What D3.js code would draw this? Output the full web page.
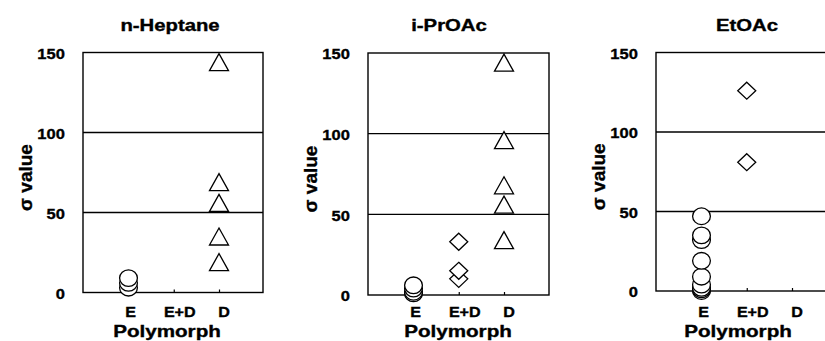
<!DOCTYPE html>
<html>
<head>
<meta charset="utf-8">
<script src="https://cdn.jsdelivr.net/npm/d3@7"></script>
<style>
  body { margin: 0; background: #fff; }
  text { font-family: "Liberation Sans", Arial, sans-serif; font-weight: bold; fill: #000; stroke: #000; stroke-width: 0.35px; }
</style>
</head>
<body>
<div id="chart"></div>
<script>
// categories and tick values
const categories = ["E", "E+D", "D"];
const solvents = ["n-Heptane", "i-PrOAc", "EtOAc"];
const yTicks = [0, 50, 100, 150];
const gridValues = [50, 100];

// sigma values, per solvent and polymorph
const heptaneE = [9, 6, 3];
const heptaneED = [];
const heptaneD = [144, 69, 56, 35, 19];

const iproacE = [6, 4, 2, 1];
const iproacED = [33, 15, 10];
const iproacD = [144, 96, 68, 56, 34];

const etoacE = [47, 35, 32, 19, 9, 4, 2, 1, 0];
const etoacED = [126, 81];
const etoacD = [];

const seriesBySolvent = [
	[heptaneE, heptaneED, heptaneD],
	[iproacE, iproacED, iproacD],
	[etoacE, etoacED, etoacD]
];

// panel layout (pixels)
const panels = [
	{ left: 83, right: 263, top: 52.5, bottom: 292.5, titleX: 170, xTitleX: 167 },
	{ left: 368, right: 549, top: 53, bottom: 295, titleX: 449, xTitleX: 458 },
	{ left: 656, right: 835, top: 52.5, bottom: 291, titleX: 747, xTitleX: 738 }
];
// the labels sit a little right of their ticks
const catLabelShift = [1.5, 5.5, 4.5];

const svg = d3.select("#chart").append("svg")
	.attr("width", 825)
	.attr("height", 341);

// marker shapes, centred on the point
function markerPath(cat) {
	if (cat === "E+D") return "M0,-8.5L9,0L0,8.5L-9,0Z";
	if (cat === "D") return "M0,-8.5L9.5,8.5L-9.5,8.5Z";
	return null;
}

// horizontally widened text, like the source figure
function wideText(g, x, y, str, size, sx) {
	return g.append("text")
		.attr("transform", "translate(" + x + "," + y + ") scale(" + sx + ",1)")
		.attr("text-anchor", "middle")
		.attr("font-size", size)
		.text(str);
}

panels.forEach(function (p, i) {
	let g = svg.append("g");

	let y = d3.scaleLinear().domain([0, 150]).range([p.bottom, p.top]);
	let x = d3.scalePoint().domain(categories).range([p.left + 45.5, p.left + 136]);

	// gridlines
	g.selectAll("line.grid").data(gridValues).join("line")
		.attr("class", "grid")
		.attr("x1", p.left).attr("x2", p.right)
		.attr("y1", d => y(d)).attr("y2", d => y(d))
		.attr("stroke", "#000").attr("stroke-width", 1.4);

	// frame
	g.append("rect")
		.attr("x", p.left).attr("y", p.top)
		.attr("width", p.right - p.left).attr("height", p.bottom - p.top)
		.attr("fill", "none").attr("stroke", "#000").attr("stroke-width", 1.4);

	// y axis
	let ya = g.append("g")
		.attr("transform", "translate(" + p.left + ",0.5)")
		.call(d3.axisLeft(y).tickValues(yTicks).tickSize(0).tickPadding(16.5));
	ya.select(".domain").remove();
	ya.attr("font-family", null).attr("font-size", null);
	ya.selectAll("text")
		.attr("font-size", 15).attr("fill", "#000")
		.attr("dy", "0.36em")
		.attr("transform", "scale(1.1,1)");

	// x axis with small inward ticks
	let xa = g.append("g")
		.attr("transform", "translate(0," + p.bottom + ")")
		.call(d3.axisBottom(x).tickSize(-3).tickPadding(0));
	xa.select(".domain").remove();
	xa.attr("font-family", null).attr("font-size", null);
	xa.selectAll("line").attr("stroke", "#000").attr("stroke-width", 1.2);
	xa.selectAll("text")
		.attr("y", null).attr("dy", null)
		.attr("font-size", 14).attr("fill", "#000")
		.attr("transform", (d, k) => "translate(" + catLabelShift[k] + "," + (316.5 - p.bottom) + ") scale(1.15,1)");

	// titles
	wideText(g, p.titleX, 31, solvents[i], 16, 1.27);
	wideText(g, p.xTitleX, 337, "Polymorph", 16.5, 1.25);

	g.append("text")
		.attr("transform", "translate(" + (p.left - 51) + "," + ((p.top + p.bottom) / 2 + 5) + ") rotate(-90)")
		.attr("text-anchor", "middle").attr("font-size", 19)
		.text("σ value");

	// points: lower values first so higher ones sit on top
	let points = [];
	seriesBySolvent[i].forEach(function (vals, ci) {
		vals.slice().sort((a, b) => a - b).forEach(v => points.push({ cat: categories[ci], value: v }));
	});

	let marks = g.append("g");
	points.forEach(function (d) {
		if (d.cat === "E") {
			marks.append("ellipse")
				.attr("cx", x(d.cat)).attr("cy", y(d.value))
				.attr("rx", 8.9).attr("ry", 8.3)
				.attr("fill", "#fff").attr("stroke", "#000").attr("stroke-width", 1.3);
		} else {
			marks.append("path")
				.attr("d", markerPath(d.cat))
				.attr("transform", "translate(" + x(d.cat) + "," + y(d.value) + ")")
				.attr("fill", "#fff").attr("stroke", "#000").attr("stroke-width", 1.3);
		}
	});
});
</script>
</body>
</html>
